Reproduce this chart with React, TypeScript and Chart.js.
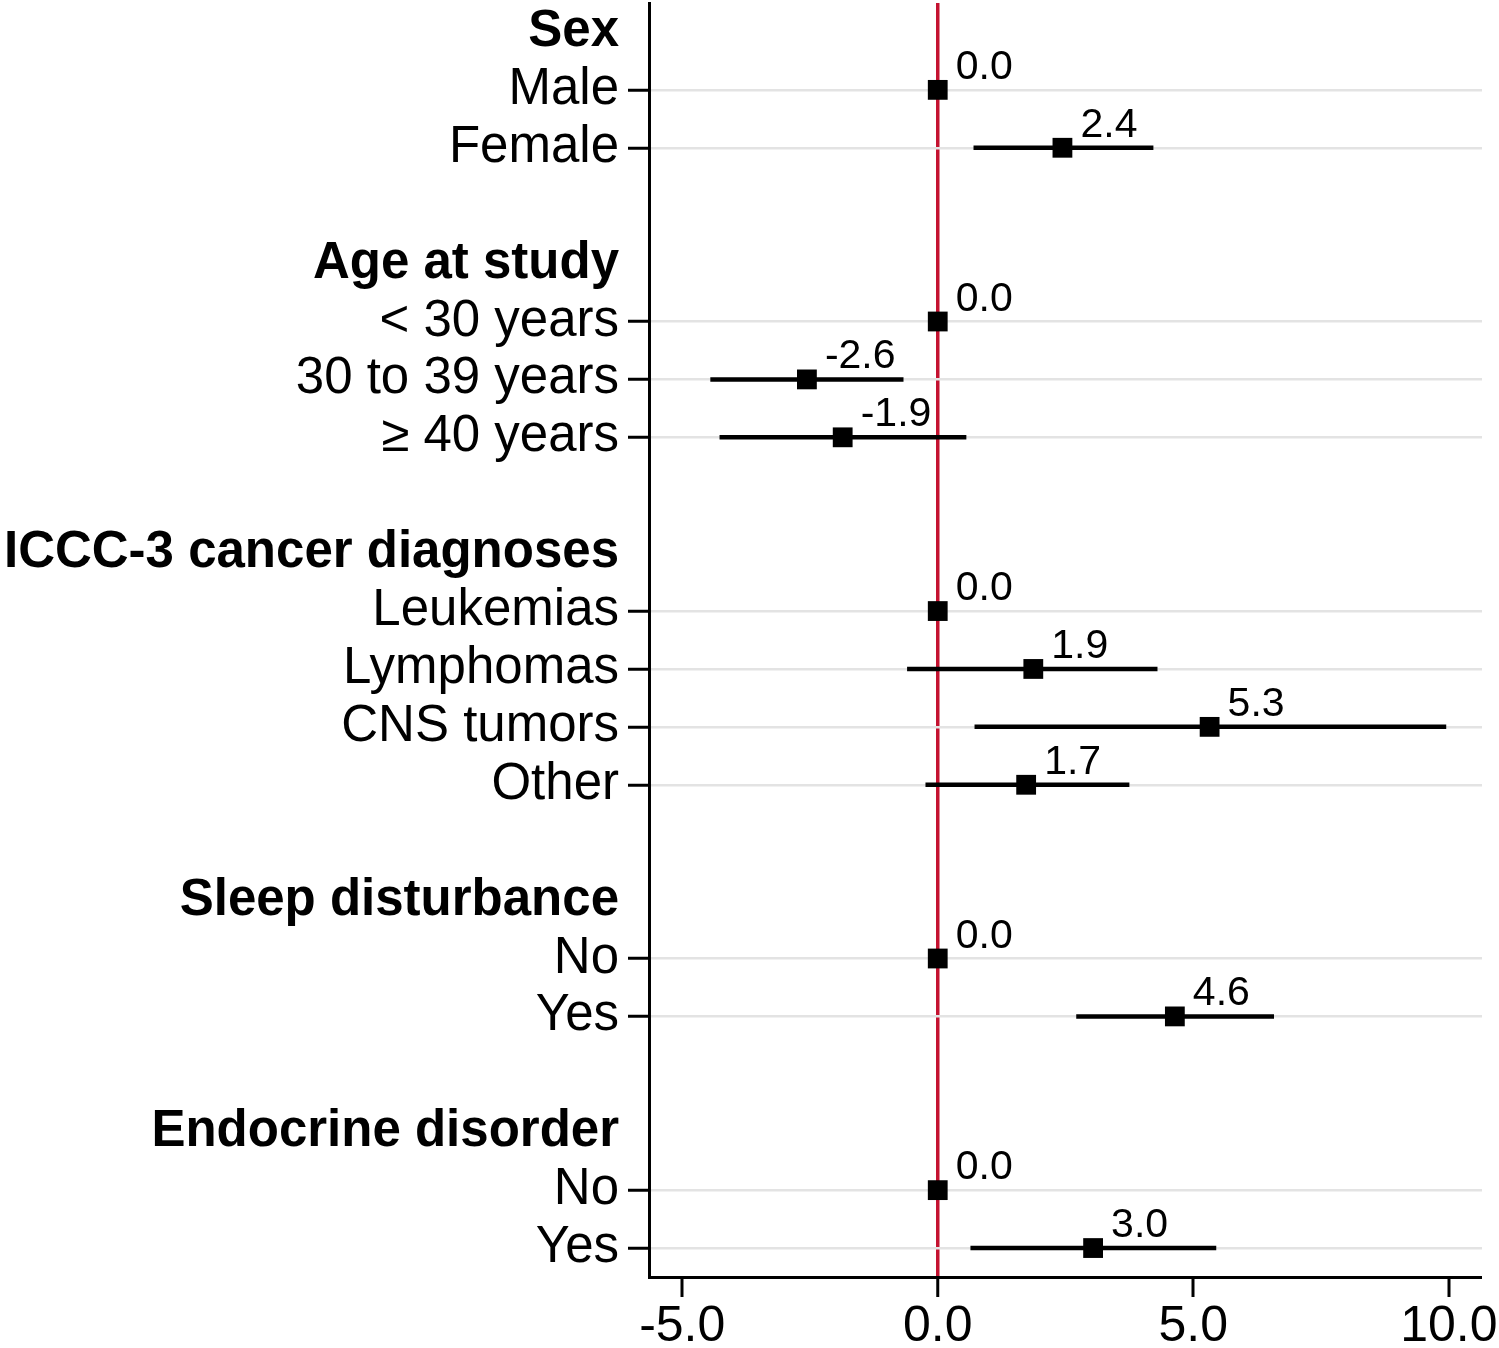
import React, { useEffect, useRef } from "react";
import { Chart, registerables } from "chart.js";

Chart.register(...registerables);

// Rows from top to bottom ("" = blank spacer row)
const rowLabels: string[] = [
  "Sex", "Male", "Female", "",
  "Age at study", "< 30 years", "30 to 39 years", "≥ 40 years", "",
  "ICCC-3 cancer diagnoses", "Leukemias", "Lymphomas", "CNS tumors", "Other", "",
  "Sleep disturbance", "No", "Yes", "",
  "Endocrine disorder", "No", "Yes",
];
const headerRows: number[] = [0, 4, 9, 15, 19];

// Point estimates (null = no marker)
const estimates: (number | null)[] = [
  null, 0, 2.44, null,
  null, 0, -2.56, -1.86, null,
  null, 0, 1.87, 5.32, 1.73, null,
  null, 0, 4.64, null,
  null, 0, 3.04,
];
// 95% CI lower / upper
const ciLower: (number | null)[] = [
  null, null, 0.70, null,
  null, null, -4.45, -4.27, null,
  null, null, -0.60, 0.72, -0.24, null,
  null, null, 2.71, null,
  null, null, 0.64,
];
const ciUpper: (number | null)[] = [
  null, null, 4.22, null,
  null, null, -0.67, 0.56, null,
  null, null, 4.30, 9.95, 3.75, null,
  null, null, 6.58, null,
  null, null, 5.45,
];
const xTicks: number[] = [-5, 0, 5, 10];

const FONT = "'Liberation Sans', Arial, Helvetica, sans-serif";
const RED = "#c41230";
const GRID = "#e3e3e3";

const isHeader = (r: number) => headerRows.includes(r);

const valueLabelPlugin = {
  id: "valueLabels",
  afterDatasetsDraw(chart: any) {
    const { ctx, scales } = chart;
    const xs = scales.x;
    const ys = scales.y;
    ctx.save();
    ctx.fillStyle = "#000";
    ctx.font = `41px ${FONT}`;
    ctx.textAlign = "left";
    ctx.textBaseline = "alphabetic";
    estimates.forEach((v, r) => {
      if (v === null) return;
      const px = xs.getPixelForValue(v);
      const py = ys.getPixelForValue(r);
      ctx.fillText(v.toFixed(1), px + 18, py - 11);
    });
    ctx.restore();
  },
};

export default function App() {
  const ref = useRef<HTMLCanvasElement | null>(null);

  useEffect(() => {
    if (!ref.current) return;
    const pointData = estimates
      .map((v, r) => (v === null ? null : { x: v, y: r }))
      .filter((p) => p !== null) as { x: number; y: number }[];

    const ciDatasets: any[] = [];
    ciLower.forEach((lo, r) => {
      const hi = ciUpper[r];
      if (lo === null || hi === null) return;
      ciDatasets.push({
        type: "scatter",
        data: [
          { x: lo, y: r },
          { x: hi, y: r },
        ],
        showLine: true,
        borderColor: "#000",
        borderWidth: 4.5,
        borderCapStyle: "butt",
        pointRadius: 0,
        fill: false,
      });
    });

    const tickRows = rowLabels
      .map((l, r) => (l === "" ? -1 : r))
      .filter((r) => r >= 0);

    const chart = new Chart(ref.current, {
      type: "scatter",
      data: {
        datasets: [
          {
            data: pointData,
            pointStyle: "rect",
            pointRadius: 14,
            pointHoverRadius: 14,
            backgroundColor: "#000",
            borderWidth: 0,
          },
          ...ciDatasets,
        ],
      },
      options: {
        animation: false,
        responsive: false,
        events: [],
        layout: { autoPadding: false, padding: { top: 3, right: 17, left: 0, bottom: 0 } },
        plugins: {
          legend: { display: false },
          tooltip: { enabled: false },
        },
        scales: {
          x: {
            type: "linear",
            min: -5.65,
            max: 10.65,
            afterBuildTicks: (scale: any) => {
              scale.ticks = xTicks.map((v) => ({ value: v }));
            },
            afterFit: (scale: any) => {
              scale.height = 71;
              scale.paddingLeft = 0;
              scale.paddingRight = 0;
            },
            ticks: {
              color: "#000",
              padding: 0,
              maxRotation: 0,
              autoSkip: false,
              font: { family: FONT, size: 50 },
              callback: (v: any) => Number(v).toFixed(1),
            },
            grid: {
              color: (c: any) => (c.tick && c.tick.value === 0 ? RED : "rgba(0,0,0,0)"),
              lineWidth: (c: any) => (c.tick && c.tick.value === 0 ? 3.5 : 0),
              tickColor: "#000",
              tickWidth: 3,
              tickLength: 20,
              drawTicks: true,
            },
            border: { display: true, color: "#000", width: 3 },
          },
          y: {
            type: "linear",
            reverse: true,
            min: -0.5,
            max: 21.5,
            afterBuildTicks: (scale: any) => {
              scale.ticks = tickRows.map((v) => ({ value: v }));
            },
            afterFit: (scale: any) => {
              scale.width = 649;
              scale.paddingTop = 0;
              scale.paddingBottom = 0;
            },
            ticks: {
              color: "#000",
              padding: 9,
              autoSkip: false,
              font: (c: any) => {
                const r = c.tick ? c.tick.value : -1;
                return isHeader(r)
                  ? { family: FONT, size: 51, weight: "bold" }
                  : { family: FONT, size: 51, weight: "normal" };
              },
              callback: (v: any) => rowLabels[Number(v)] ?? "",
            },
            grid: {
              color: (c: any) => {
                const r = c.tick ? c.tick.value : -1;
                return r < 0 || isHeader(r) ? "rgba(0,0,0,0)" : GRID;
              },
              tickColor: (c: any) => {
                const r = c.tick ? c.tick.value : -1;
                return r < 0 || isHeader(r) ? "rgba(0,0,0,0)" : "#000";
              },
              lineWidth: 2.5,
              tickWidth: 3,
              tickLength: 21,
              drawTicks: true,
            },
            border: { display: true, color: "#000", width: 3 },
          },
        },
      } as any,
      plugins: [valueLabelPlugin],
    });
    return () => chart.destroy();
  }, []);

  return (
    <div style={{ position: "absolute", left: 0, top: 0, width: 1499, height: 1348, background: "#fff" }}>
      <canvas ref={ref} width={1499} height={1348} style={{ display: "block", width: 1499, height: 1348 }} />
    </div>
  );
}
